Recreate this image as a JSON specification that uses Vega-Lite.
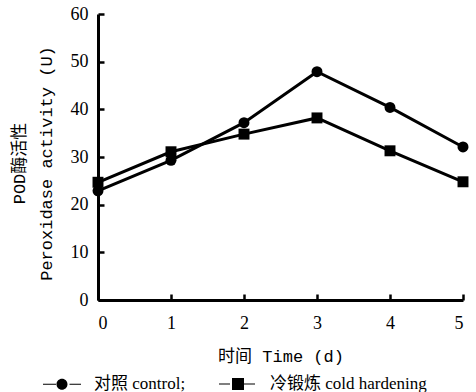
{
  "$schema": "https://vega.github.io/schema/vega-lite/v6.json",
  "width": 365,
  "height": 286,
  "autosize": {"type": "none"},
  "padding": {"left": 98, "top": 14, "right": 13, "bottom": 92},
  "background": "white",
  "data": {
    "values": [
      {"day": 0, "series": "对照 control;", "value": 22.9},
      {"day": 1, "series": "对照 control;", "value": 29.3},
      {"day": 2, "series": "对照 control;", "value": 37.2},
      {"day": 3, "series": "对照 control;", "value": 47.9},
      {"day": 4, "series": "对照 control;", "value": 40.4},
      {"day": 5, "series": "对照 control;", "value": 32.1},
      {"day": 0, "series": "冷锻炼 cold hardening", "value": 24.7},
      {"day": 1, "series": "冷锻炼 cold hardening", "value": 31.1},
      {"day": 2, "series": "冷锻炼 cold hardening", "value": 34.8},
      {"day": 3, "series": "冷锻炼 cold hardening", "value": 38.2},
      {"day": 4, "series": "冷锻炼 cold hardening", "value": 31.3},
      {"day": 5, "series": "冷锻炼 cold hardening", "value": 24.8}
    ]
  },
  "config": {
    "view": {"stroke": null},
    "axis": {
      "grid": false,
      "domainColor": "black",
      "domainWidth": 3,
      "tickColor": "black",
      "tickWidth": 2.5,
      "tickSize": -6,
      "labelFont": "Liberation Serif",
      "labelFontSize": 18,
      "labelColor": "black",
      "titleFont": "Liberation Mono, Noto Sans CJK SC",
      "titleFontWeight": "normal",
      "titleFontSize": 17,
      "titleColor": "black"
    }
  },
  "encoding": {
    "x": {
      "field": "day",
      "type": "quantitative",
      "scale": {"domain": [0, 5]},
      "axis": {
        "values": [0, 1, 2, 3, 4, 5],
        "format": "d",
        "title": "时间 Time (d)",
        "labelPadding": 20,
        "titlePadding": 16
      }
    },
    "y": {
      "field": "value",
      "type": "quantitative",
      "scale": {"domain": [0, 60]},
      "axis": {
        "values": [0, 10, 20, 30, 40, 50, 60],
        "title": ["POD酶活性", "Peroxidase activity (U)"],
        "titleLineHeight": 27,
        "titleY": 149,
        "labelPadding": 16,
        "titlePadding": 15
      }
    }
  },
  "layer": [
    {
      "mark": {"type": "line", "color": "black", "strokeWidth": 3},
      "encoding": {"detail": {"field": "series"}}
    },
    {
      "mark": {"type": "point", "filled": true, "color": "black", "opacity": 1, "size": 120},
      "encoding": {
        "shape": {
          "field": "series",
          "type": "nominal",
          "scale": {"domain": ["对照 control;", "冷锻炼 cold hardening"], "range": ["circle", "square"]},
          "legend": null
        }
      }
    },
    {
      "mark": {"type": "point", "filled": true, "color": "black", "opacity": 0, "size": 400},
      "encoding": {
        "shape": {
          "field": "series",
          "type": "nominal",
          "scale": {
            "domain": ["对照 control;", "冷锻炼 cold hardening"],
            "range": [
              "M-1.9,-0.05H-0.5V0.05H-1.9ZM0.75,-0.05H1.9V0.05H0.75ZM-0.55,0A0.55,0.55 0 1,0 0.55,0A0.55,0.55 0 1,0 -0.55,0Z",
              "M-1.9,-0.05H-0.8V0.05H-1.9ZM0.6,-0.05H1.7V0.05H0.6ZM-0.6,-0.6H0.6V0.6H-0.6Z"
            ]
          },
          "legend": {
            "title": null,
            "orient": "none",
            "direction": "horizontal",
            "legendX": -47,
            "legendY": 359,
            "symbolSize": 400,
            "symbolOpacity": 1,
            "symbolFillColor": "black",
            "labelOffset": 21,
            "columnPadding": 30,
            "padding": 0,
            "labelFont": "Liberation Serif, Noto Sans CJK SC",
            "labelFontSize": 17,
            "labelColor": "black",
            "labelLimit": 300
          }
        }
      }
    }
  ],
  "resolve": {"scale": {"shape": "independent"}}
}
